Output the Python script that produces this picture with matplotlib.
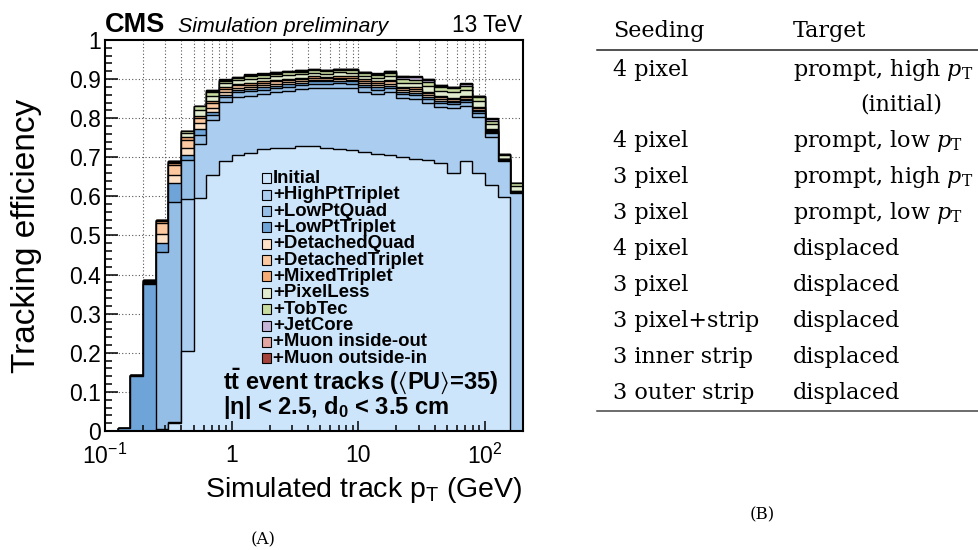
import numpy as np
import matplotlib
matplotlib.use('Agg')
import matplotlib.pyplot as plt
from matplotlib.patches import Rectangle
from matplotlib.lines import Line2D
from matplotlib.ticker import FixedLocator, FixedFormatter, LogLocator, NullFormatter, MultipleLocator, FuncFormatter

plt.rcParams['font.family'] = ['Liberation Sans', 'DejaVu Sans']
plt.rcParams['mathtext.fontset'] = 'custom'
plt.rcParams['mathtext.rm'] = 'Liberation Sans'
plt.rcParams['mathtext.it'] = 'Liberation Sans:italic'
plt.rcParams['mathtext.bf'] = 'Liberation Sans:bold'
plt.rcParams['mathtext.fallback'] = 'stixsans'

# pT binning: 33 bins, 0.1 decade each, from 0.1 GeV
pt_edges = np.logspace(-1, 2.3, 34)

# efficiency gained by each iteration, per pT bin
initial = [0, 0, 0, 0, 0, 0.020, 0.205, 0.595, 0.655, 0.690, 0.705, 0.712, 0.720, 0.725, 0.725, 0.728, 0.730,
           0.725, 0.722, 0.718, 0.714, 0.708, 0.706, 0.700, 0.695, 0.693, 0.685, 0.659, 0.691, 0.659, 0.629, 0.599, 0.0]
high_pt_triplet = [0, 0, 0, 0, 0.005, 0.004, 0.388, 0.140, 0.140, 0.152, 0.150, 0.146, 0.142, 0.141, 0.145, 0.146, 0.147,
                   0.152, 0.156, 0.159, 0.154, 0.154, 0.160, 0.152, 0.155, 0.146, 0.144, 0.167, 0.140, 0.145, 0.124, 0.091, 0.608]
low_pt_quad = [0, 0, 0, 0, 0.453, 0.561, 0.100, 0.022, 0.013, 0.011, 0.011, 0.011, 0.011, 0.011, 0.011, 0.011, 0.011,
               0.011, 0.011, 0.011, 0.011, 0.011, 0.011, 0.010, 0.010, 0.010, 0.010, 0.010, 0.010, 0.010, 0.008, 0.003, 0.002]
low_pt_triplet = [0, 0.008, 0.140, 0.375, 0.022, 0.050, 0.013, 0.015, 0.008, 0.007, 0.006, 0.006, 0.006, 0.006, 0.006, 0.006, 0.006,
                  0.006, 0.006, 0.006, 0.006, 0.006, 0.006, 0.005, 0.005, 0.005, 0.005, 0.005, 0.005, 0.005, 0.004, 0.002, 0.001]
detached_quad = [0, 0, 0.001, 0.003, 0.025, 0.020, 0.018, 0.015, 0.010, 0.007, 0.006, 0.005, 0.005, 0.005, 0.005, 0.004, 0.004,
                 0.004, 0.004, 0.004, 0.005, 0.005, 0.005, 0.005, 0.005, 0.005, 0.004, 0.004, 0.004, 0.003, 0.003, 0.0, 0.001]
detached_triplet = [0, 0, 0.001, 0.004, 0.028, 0.025, 0.020, 0.013, 0.012, 0.008, 0.006, 0.006, 0.006, 0.006, 0.005, 0.005, 0.005,
                    0.005, 0.005, 0.005, 0.005, 0.006, 0.006, 0.005, 0.005, 0.005, 0.005, 0.004, 0.004, 0.004, 0.003, 0.0, 0.001]
mixed_triplet = [0, 0, 0, 0.002, 0.005, 0.006, 0.007, 0.006, 0.006, 0.004, 0.004, 0.004, 0.004, 0.004, 0.004, 0.004, 0.004,
                 0.003, 0.004, 0.004, 0.004, 0.004, 0.004, 0.004, 0.004, 0.004, 0.004, 0.003, 0.004, 0.003, 0.002, 0.001, 0.001]
pixel_less = [0, 0, 0, 0.001, 0.002, 0.003, 0.011, 0.016, 0.013, 0.010, 0.009, 0.010, 0.010, 0.009, 0.009, 0.009, 0.009,
              0.008, 0.009, 0.009, 0.009, 0.010, 0.010, 0.010, 0.010, 0.014, 0.013, 0.014, 0.014, 0.015, 0.013, 0.009, 0.012]
tob_tec = [0, 0, 0, 0, 0, 0.001, 0.005, 0.008, 0.011, 0.007, 0.006, 0.008, 0.007, 0.007, 0.007, 0.006, 0.006,
           0.006, 0.006, 0.007, 0.007, 0.007, 0.008, 0.008, 0.008, 0.010, 0.009, 0.010, 0.010, 0.010, 0.008, 0.002, 0.007]
jet_core = [0, 0, 0, 0, 0, 0, 0.001, 0.001, 0.002, 0.001, 0.001, 0.002, 0.002, 0.002, 0.002, 0.002, 0.002,
            0.002, 0.002, 0.002, 0.002, 0.002, 0.003, 0.007, 0.008, 0.006, 0.004, 0.003, 0.005, 0.002, 0.004, 0.001, 0.001]
muon_inside_out = [0, 0, 0, 0, 0, 0, 0, 0.001, 0.001, 0.001, 0.001, 0.001, 0.001, 0.001, 0.001, 0.001, 0.001,
                   0.001, 0.001, 0.001, 0.001, 0.001, 0.001, 0.001, 0.001, 0.001, 0.001, 0.001, 0.001, 0.001, 0.001, 0.0, 0.001]
muon_outside_in = [0, 0, 0, 0, 0, 0, 0, 0, 0.001, 0.001, 0, 0.001, 0.001, 0.001, 0.001, 0.001, 0.001,
                   0.001, 0.001, 0.001, 0.001, 0.001, 0.001, 0.001, 0.001, 0.001, 0.001, 0.001, 0.001, 0.001, 0.001, 0.0, 0.0]

iterations = [initial, high_pt_triplet, low_pt_quad, low_pt_triplet, detached_quad, detached_triplet,
              mixed_triplet, pixel_less, tob_tec, jet_core, muon_inside_out, muon_outside_in]
labels = ['Initial', '+HighPtTriplet', '+LowPtQuad', '+LowPtTriplet', '+DetachedQuad', '+DetachedTriplet',
          '+MixedTriplet', '+PixelLess', '+TobTec', '+JetCore', '+Muon inside-out', '+Muon outside-in']
colors = ['#cde5fb', '#aacdf0', '#94bee6', '#6ea4d8', '#fde2c8', '#fbc8a0',
          '#f4ab76', '#e1ebcd', '#c9dca0', '#c3b4d8', '#e3a5a2', '#a6423c']

# table of seeding iterations
seeding = ['4 pixel', '4 pixel', '3 pixel', '3 pixel', '4 pixel', '3 pixel', '3 pixel+strip', '3 inner strip', '3 outer strip']
target = [r'prompt, high $p_{\mathrm{T}}$', r'prompt, low $p_{\mathrm{T}}$', r'prompt, high $p_{\mathrm{T}}$',
          r'prompt, low $p_{\mathrm{T}}$', 'displaced', 'displaced', 'displaced', 'displaced', 'displaced']

W, H = 979, 550
fig = plt.figure(figsize=(W / 100, H / 100), dpi=100)
ax = fig.add_axes([105 / W, 1 - 431 / H, 418 / W, 391 / H])

# cumulative efficiency after each iteration, drawn back to front
cumulative = np.cumsum(np.array(iterations), axis=0)
for vals, col in reversed(list(zip(cumulative, colors))):
    ax.stairs(vals, pt_edges, fill=True, facecolor=col, edgecolor='black', linewidth=1.0, baseline=0, zorder=1)

ax.set_xscale('log')
ax.set_xlim(pt_edges[0], pt_edges[-1])
ax.set_ylim(0, 1)

ax.xaxis.set_major_locator(FixedLocator([0.1, 1, 10, 100]))
ax.xaxis.set_major_formatter(FixedFormatter([r'$\mathregular{10^{-1}}$', '1', '10', r'$\mathregular{10^{2}}$']))
ax.xaxis.set_minor_locator(LogLocator(base=10, subs=np.arange(2, 10), numticks=20))
ax.xaxis.set_minor_formatter(NullFormatter())
ax.yaxis.set_major_locator(MultipleLocator(0.1))
ax.yaxis.set_minor_locator(MultipleLocator(0.02))
ax.yaxis.set_major_formatter(FuncFormatter(lambda v, p: f'{v:g}'))

ax.tick_params(axis='both', which='both', direction='in', top=False, right=False, width=1.1, labelsize=16.5)
ax.tick_params(axis='x', which='major', length=7.5, pad=9)
ax.tick_params(axis='x', which='minor', length=4)
ax.tick_params(axis='y', which='major', length=9.5, pad=3)
ax.tick_params(axis='y', which='minor', length=5)
for sp in ax.spines.values():
    sp.set_linewidth(1.5)
    sp.set_zorder(3)

# dotted grid behind the histograms
xgrid = [x for x in list(ax.xaxis.get_minorticklocs()) + [1, 10, 100] if pt_edges[0] < x < pt_edges[-1]]
for x in xgrid:
    ax.axvline(x, color='#555555', linestyle=(0, (1, 2)), linewidth=0.8, zorder=0.5)
for y in ax.yaxis.get_majorticklocs():
    if 0 < y < 1:
        ax.axhline(y, color='#555555', linestyle=(0, (1, 2)), linewidth=0.8, zorder=0.5)

ax.set_ylabel('Tracking efficiency', fontsize=24)
ax.yaxis.set_label_coords(-0.151, 0.5)
ax.text(1.0, -0.168, r'Simulated track p$_{\mathrm{T}}$ (GeV)', transform=ax.transAxes,
        ha='right', va='baseline', fontsize=20.5)

ax.text(0.0, 1.0205, 'CMS', transform=ax.transAxes, fontsize=19.5, fontweight='bold', va='baseline')
ax.text(0.1746, 1.0205, 'Simulation preliminary', transform=ax.transAxes, fontsize=15.4,
        style='italic', va='baseline')
ax.text(0.998, 1.0205, '13 TeV', transform=ax.transAxes, fontsize=16.3, ha='right', va='baseline')

# legend, ROOT style with tight rows
for i, (lab, col) in enumerate(zip(labels, colors)):
    yc = (431 - (178.3 + 16.36 * i)) / 391
    ax.add_patch(Rectangle((0.3756, yc - 0.0128), 0.0227, 0.0256, transform=ax.transAxes,
                           facecolor=col, edgecolor='black', linewidth=0.8, zorder=4))
    ax.text(0.4019, yc, lab, transform=ax.transAxes, fontsize=13.4, fontweight='bold', va='center', zorder=4)

ax.text(0.2816, 0.108, r'$\mathbf{t\bar{t}}$ event tracks ($\langle$PU$\rangle$=35)', transform=ax.transAxes,
        fontsize=17, fontweight='bold', va='baseline', zorder=4)
ax.text(0.2816, 0.043, r'|η| < 2.5, d$_{\mathbf{0}}$ < 3.5 cm', transform=ax.transAxes,
        fontsize=17, fontweight='bold', va='baseline', zorder=4)

fig.text(263 / W, 1 - 540 / H, '(A)', ha='center', va='center', fontsize=12, family='DejaVu Serif')

# table on the right
tab_font = dict(fontsize=16, family='DejaVu Serif', math_fontfamily='dejavuserif', va='baseline')
fig.text(613 / W, 1 - 37 / H, 'Seeding', **tab_font)
fig.text(793 / W, 1 - 37 / H, 'Target', **tab_font)
fig.add_artist(Line2D([597 / W, 1.0], [1 - 50 / H, 1 - 50 / H], color='#222222', linewidth=1.1))
row_y = [76, 147, 183, 219, 255, 291, 327, 363, 399]
for yb, s, t in zip(row_y, seeding, target):
    fig.text(613 / W, 1 - yb / H, s, **tab_font)
    fig.text(793 / W, 1 - yb / H, t, **tab_font)
fig.text(860 / W, 1 - 111 / H, '(initial)', **tab_font)
fig.add_artist(Line2D([597 / W, 1.0], [1 - 410.5 / H, 1 - 410.5 / H], color='#444444', linewidth=1.1))
fig.text(762 / W, 1 - 515 / H, '(B)', ha='center', va='center', fontsize=12, family='DejaVu Serif')

fig.savefig('out.png', dpi=100)
